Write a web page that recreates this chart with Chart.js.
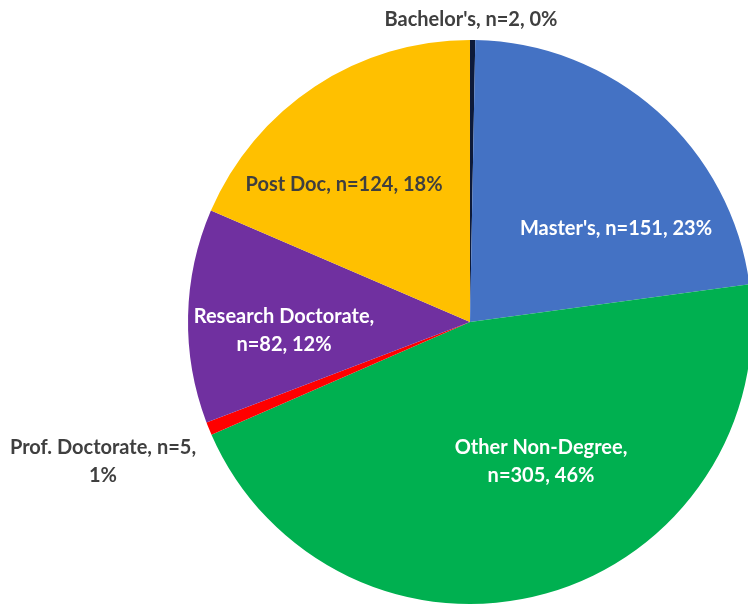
<!DOCTYPE html>
<html>
<head>
<meta charset="utf-8">
<script src="https://cdn.jsdelivr.net/npm/chart.js@4.4.1/dist/chart.umd.min.js"></script>
<style>
  html, body { margin: 0; padding: 0; background: #fff; overflow: hidden; }
  #wrap { width: 760px; height: 605px; position: relative; }
</style>
</head>
<body>
<div id="wrap"><canvas id="pie"></canvas></div>
<script>
// data, clockwise from 12 o'clock
const categories = ["Bachelor's", "Master's", "Other Non-Degree", "Prof. Doctorate", "Research Doctorate", "Post Doc"];
const counts = [2, 151, 305, 5, 82, 124];
const percents = ["0%", "23%", "46%", "1%", "12%", "18%"];

const sliceColors = ["#0d1a3a", "#4472C4", "#00B050", "#FF0000", "#7030A0", "#FFC000"];

// label lines and where they go, offset from pie centre in px
const labelLines = [
  ["Bachelor's, n=2, 0%"],
  ["Master's, n=151, 23%"],
  ["Other Non-Degree,", "n=305, 46%"],
  ["Prof. Doctorate, n=5,", "1%"],
  ["Research Doctorate,", "n=82, 12%"],
  ["Post Doc, n=124, 18%"]
];
const labelOffsets = [[1, -302], [146, -93], [71, 140], [-367, 140], [-186, 9], [-126, -137]];
const labelColors = ["#3f3f3f", "#ffffff", "#ffffff", "#3f3f3f", "#ffffff", "#3f3f3f"];

const labelPlugin = {
  id: "sliceLabels",
  afterDatasetsDraw(chart) {
    const arc = chart.getDatasetMeta(0).data[0];
    const ctx = chart.ctx;
    ctx.save();
    ctx.font = "bold 20px Lato";
    ctx.textAlign = "center";
    ctx.textBaseline = "middle";
    labelLines.forEach((lines, i) => {
      const x = arc.x + labelOffsets[i][0];
      const y = arc.y + labelOffsets[i][1];
      ctx.fillStyle = labelColors[i];
      const lh = 28;
      const y0 = y - (lines.length - 1) * lh / 2;
      lines.forEach((t, j) => ctx.fillText(t, x, y0 + j * lh));
    });
    ctx.restore();
  }
};

new Chart(document.getElementById("pie"), {
  type: "pie",
  data: {
    labels: categories,
    datasets: [{
      data: counts,
      backgroundColor: sliceColors,
      borderWidth: 0
    }]
  },
  options: {
    responsive: true,
    maintainAspectRatio: false,
    animation: false,
    layout: { padding: { left: 188, right: 8, top: 40, bottom: 1 } },
    plugins: {
      legend: { display: false },
      tooltip: { enabled: false }
    }
  },
  plugins: [labelPlugin]
});
</script>
</body>
</html>
